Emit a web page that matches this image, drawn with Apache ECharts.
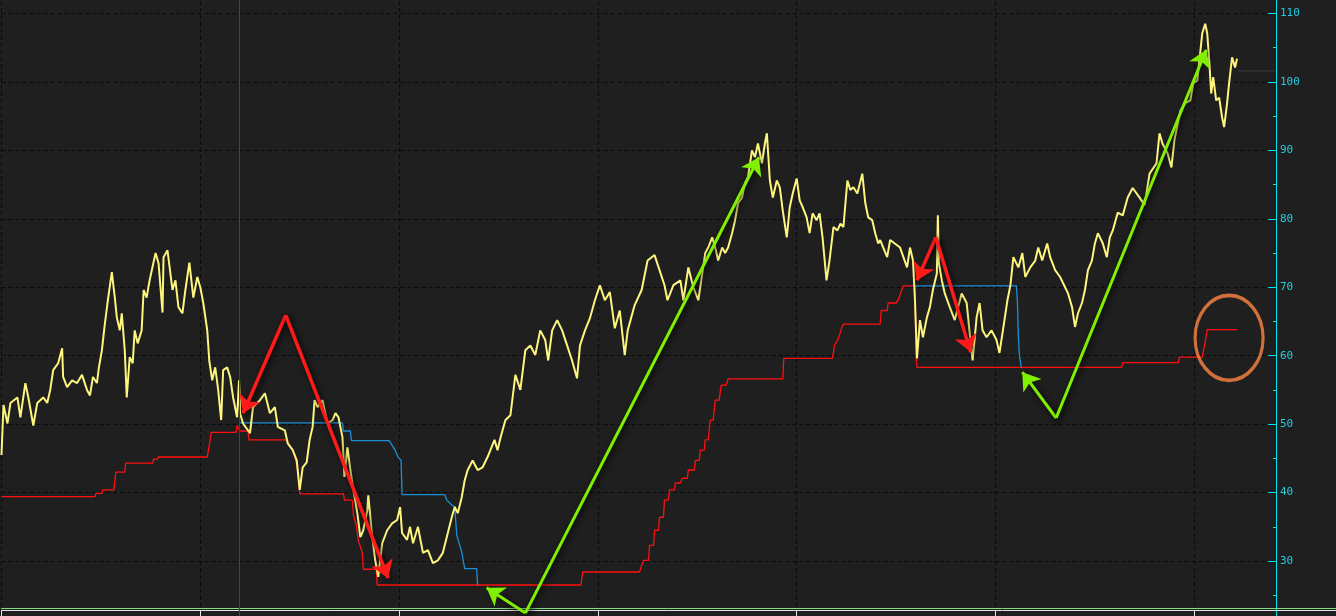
<!DOCTYPE html>
<html>
<head>
<meta charset="utf-8">
<script src="https://cdn.jsdelivr.net/npm/echarts@6/dist/echarts.min.js"></script>
<style>
html,body{margin:0;padding:0;background:#1f1f1f;width:1336px;height:616px;overflow:hidden;position:relative;}
#chart{position:absolute;left:0;top:-55px;width:1336px;height:685px;}
</style>
</head>
<body>
<div id="chart"></div>
<script>
// ---- data (x = session index, y = price) ----
const yTicks = [30, 40, 50, 60, 70, 80, 90, 100, 110];

const price = [
[0,45.5],[2,52.8],[6,50.1],[9,53.1],[16,53.9],[19,51.0],[24,56.0],[27,53.9],[32,49.8],[36,53.1],[42,53.9],[46,53.1],
[49,55.0],[52,57.9],[57,58.9],[61,61.1],[62,56.9],[66,55.4],[71,56.4],[76,56.0],[81,57.2],[86,55.0],[89,54.2],[92,56.9],
[96,56.0],[98,58.3],[101,60.8],[104,64.7],[107,68.1],[111,72.2],[114,68.5],[116,65.6],[119,63.7],[121,66.2],[124,60.8],
[126,53.9],[129,59.8],[132,58.9],[134,63.7],[137,61.8],[141,63.7],[143,69.6],[146,68.5],[149,71.0],[155,75.0],[158,73.5],
[162,66.3],[163,74.4],[167,75.4],[172,69.6],[175,71.0],[178,67.1],[182,66.2],[185,69.6],[189,73.6],[193,68.5],[197,71.5],
[200,70.0],[203,67.7],[207,63.7],[209,59.3],[212,56.4],[215,58.3],[218,55.0],[221,50.6],[223,57.9],[227,58.3],[230,56.9],
[233,53.9],[237,51.0],[239,56.4],[240,51.6],[243,50.1],[250,48.7],[253,52.5],[260,53.5],[265,54.5],[270,51.6],[275,52.5],
[278,49.6],[285,49.1],[288,47.2],[293,46.2],[297,44.7],[300,40.4],[303,43.7],[307,44.4],[310,47.7],[313,49.6],[315,53.5],
[318,52.5],[323,53.5],[328,50.1],[333,50.6],[336,51.6],[339,51.0],[343,48.1],[345,42.3],[348,46.6],[351,43.3],[354,40.4],
[358,37.0],[361,33.5],[364,34.5],[368,37.4],[369,39.6],[373,33.5],[376,30.1],[379,27.7],[383,32.6],[388,34.5],[393,35.5],
[398,36.0],[401,37.9],[403,34.1],[408,33.1],[411,35.0],[414,32.6],[419,35.0],[424,31.2],[429,31.6],[434,29.7],[439,30.1],
[444,31.2],[449,34.1],[453,36.4],[456,37.9],[459,37.0],[463,39.3],[466,41.8],[469,43.3],[474,44.7],[479,43.3],[484,43.7],
[489,45.2],[496,47.7],[499,46.2],[502,48.0],[507,50.6],[512,51.3],[517,57.2],[522,55.0],[527,60.8],[532,61.5],[537,60.1],
[542,63.7],[547,62.3],[550,59.3],[554,63.7],[559,65.2],[564,63.7],[569,61.5],[574,59.3],[579,56.7],[582,61.5],[587,63.7],
[592,65.5],[597,68.1],[602,70.3],[607,68.1],[612,69.3],[617,64.0],[622,66.6],[627,60.1],[630,63.7],[637,67.4],[644,69.6],
[650,73.9],[657,74.7],[662,72.5],[667,70.3],[670,68.1],[676,70.3],[683,71.0],[686,68.1],[691,72.9],[696,70.0],[701,68.1],
[705,72.0],[708,75.0],[711,75.8],[715,77.3],[718,75.8],[721,73.9],[725,75.8],[728,75.0],[731,75.8],[735,77.9],[738,79.8],
[741,82.3],[745,83.1],[748,85.2],[751,86.1],[755,90.0],[758,89.0],[761,91.0],[765,88.1],[768,91.0],[770,92.5],[773,85.6],
[776,83.1],[780,85.6],[783,84.6],[786,81.2],[790,77.3],[793,81.7],[796,83.7],[800,85.9],[803,82.7],[806,81.7],[810,80.2],
[813,77.9],[816,80.8],[820,79.8],[823,80.8],[826,77.3],[830,71.0],[833,73.9],[837,78.8],[841,78.3],[844,79.3],[847,78.8],
[851,85.6],[854,84.2],[857,84.6],[861,83.7],[866,86.6],[869,82.3],[872,80.2],[876,79.8],[879,77.9],[882,76.4],[884,76.9],
[891,74.4],[894,76.9],[904,75.8],[911,72.9],[914,75.8],[917,73.9],[919,68.1],[921,59.6],[924,65.2],[927,62.7],[931,65.6],
[934,67.1],[937,69.6],[941,72.0],[942,80.5],[943,73.6],[946,71.0],[949,69.1],[954,67.1],[959,65.2],[966,69.1],[971,67.7],
[974,63.3],[977,59.3],[981,65.6],[984,67.7],[987,63.7],[991,62.7],[996,63.7],[1001,62.3],[1004,60.4],[1008,64.2],[1012,68.1],
[1015,70.3],[1018,74.4],[1023,72.9],[1027,75.0],[1030,71.5],[1035,72.9],[1040,73.9],[1043,75.8],[1047,73.9],[1052,76.4],
[1055,74.4],[1060,72.5],[1065,71.5],[1070,70.0],[1073,69.1],[1077,67.1],[1080,64.2],[1083,66.2],[1087,67.7],[1090,69.6],
[1093,72.5],[1097,73.9],[1100,76.4],[1103,77.9],[1108,76.4],[1112,74.4],[1115,77.3],[1118,78.3],[1123,80.9],[1128,80.5],
[1133,83.1],[1138,84.5],[1145,83.1],[1150,82.0],[1155,86.6],[1162,88.1],[1165,92.5],[1168,91.0],[1173,89.6],[1177,87.5],
[1180,91.5],[1186,95.8],[1191,96.9],[1196,97.3],[1199,99.8],[1203,100.2],[1208,107.1],[1211,108.5],[1213,107.1],[1215,103.1],
[1217,98.3],[1219,100.7],[1222,97.3],[1225,97.7],[1228,94.8],[1230,93.4],[1233,96.9],[1235,99.8],[1238,103.6],[1239,103.1],
[1241,102.1],[1243,103.4]
];

const redStop = [
[0,39.4],[94,39.4],[95,39.9],[101,39.9],[102,40.4],[113,40.4],[115,43.0],[124,43.0],[125,44.3],[152,44.3],[153,44.9],
[157,44.9],[158,45.2],[207,45.2],[209,46.9],[211,48.8],[236,48.8],[237,49.8],[239,50.0],[240,49.0],[248,49.0],[249,47.7],
[286,47.7],[290,46.9],[293,46.2],[296,44.7],[298,43.3],[300,39.8],[344,39.8],[345,38.9],[353,38.9],[354,36.7],[357,35.2],
[359,33.0],[363,31.2],[364,28.8],[377,28.8],[378,26.5],[583,26.5],[584,27.7],[585,28.4],[642,28.4],[644,29.4],[646,30.1],
[651,30.1],[652,32.3],[656,32.3],[657,34.5],[661,34.5],[662,36.4],[666,36.4],[667,38.9],[671,38.9],[672,40.4],[677,40.4],
[678,41.4],[683,41.4],[685,42.1],[690,42.1],[691,43.3],[697,43.3],[698,44.7],[702,44.7],[703,46.2],[707,46.2],[708,47.7],
[711,47.7],[713,50.6],[716,50.6],[718,53.5],[722,53.5],[724,55.7],[729,55.7],[731,56.6],[786,56.6],[787,59.6],[836,59.6],
[838,61.5],[842,62.5],[845,64.0],[847,64.6],[884,64.6],[885,66.6],[891,66.6],[892,67.7],[900,67.7],[902,68.1],[905,69.3],
[907,70.2],[919,70.2],[920,60.0],[921,58.3],[1127,58.3],[1128,59.0],[1184,59.0],[1185,59.8],[1208,59.8],[1211,62.0],
[1213,63.8],[1243,63.8]
];

const blueStop1 = [
[240,50.2],[343,50.2],[344,49.0],[351,49.0],[352,47.6],[390,47.6],[393,46.9],[396,46.2],[399,45.2],[402,44.7],[403,39.7],
[446,39.7],[448,38.9],[453,38.2],[456,37.9],[458,33.8],[461,32.3],[463,31.3],[466,28.9],[478,28.9],[479,26.5]
];
const blueStop2 = [[919,70.2],[1021,70.2],[1022,68.1],[1023,63.0],[1024,60.1],[1026,58.3]];

const lastPrice = [[1244,101.6],[1282,101.6]];
const cursorX = 239.4;

const redArrows = [
  [[286,65.9],[243,51.6]], [[286,65.9],[389,27.5]],
  [[940,77.3],[921,71.0]], [[940,77.3],[975,60.5]]
];
const greenArrows = [
  [[527,22.4],[488,26.1]], [[527,22.4],[762,89.0]],
  [[1061,50.9],[1027,57.6]], [[1061,50.9],[1212,104.7]]
];
const highlight = [[1235,62.6]];

// ---- chart ----
const chart = echarts.init(document.getElementById('chart'), null, {renderer:'canvas'});
const arrowSeries = (arr, color, width) => ({
  type:'lines', coordinateSystem:'cartesian2d', xAxisIndex:0, yAxisIndex:0,
  symbol:['none','arrow'], symbolSize:17, z:10, silent:true,
  lineStyle:{color:color, width:width, opacity:1, curveness:0,
    shadowBlur:6, shadowColor:'rgba(0,0,0,0.9)', shadowOffsetX:2, shadowOffsetY:2},
  data: arr.map(c => ({coords:c}))
});

chart.setOption({
  animation:false,
  backgroundColor:'#1f1f1f',
  grid:[
    {left:1.5, right:60, top:0, bottom:0.5},
    {left:1.5, right:0, top:663.5, height:2}
  ],
  xAxis:[
    {type:'value', gridIndex:0, min:0, max:1282.2, interval:200,
     axisLine:{show:false}, axisTick:{show:false}, axisLabel:{show:false},
     splitLine:{show:true, lineStyle:{color:'#0a0a0a', type:[4,3], width:1}}},
    {type:'value', gridIndex:1, position:'top', min:0, max:1342.6, interval:200,
     axisLine:{show:true, onZero:false, lineStyle:{color:'#7ee07e', width:1}},
     axisTick:{show:false}, axisLabel:{show:false}, splitLine:{show:false}},
    {type:'value', gridIndex:1, position:'bottom', min:0, max:1342.6, interval:200,
     axisLine:{show:true, onZero:false, lineStyle:{color:'#e6e6e6', width:1}},
     axisTick:{show:true, length:6, lineStyle:{color:'#e6e6e6'}},
     axisLabel:{show:false}, splitLine:{show:false}}
  ],
  yAxis:[
    {type:'value', gridIndex:0, position:'right', min:20, max:120, interval:10,
     axisLine:{show:true, onZero:false, lineStyle:{color:'#00e6ee', width:1}},
     axisTick:{show:true, inside:true, length:8, lineStyle:{color:'#00e6ee'}},
     minorTick:{show:true, splitNumber:2, length:3, lineStyle:{color:'#00e6ee'}},
     axisLabel:{show:true, margin:4, color:'#22cde0', fontFamily:'DejaVu Sans Mono', fontSize:11,
       formatter: v => yTicks.includes(v) ? String(v) : ''},
     splitLine:{show:true, lineStyle:{color:'#0a0a0a', type:[4,3], width:1}}},
    {type:'value', gridIndex:1, min:0, max:1, show:false}
  ],
  series:[
    {type:'line', name:'cursor', xAxisIndex:0, yAxisIndex:0, data:[], silent:true,
     markLine:{silent:true, symbol:['none','none'], label:{show:false},
       lineStyle:{color:'#6e2470', width:1, type:'solid'}, data:[{xAxis:cursorX}]}},
    {type:'line', name:'stop red', data:redStop, showSymbol:false, symbol:'none',
     lineStyle:{color:'#ff1010', width:1.3}, z:3},
    {type:'line', name:'stop blue 1', data:blueStop1, showSymbol:false, symbol:'none',
     lineStyle:{color:'#1b8ed6', width:1.3}, z:3},
    {type:'line', name:'stop blue 2', data:blueStop2, showSymbol:false, symbol:'none',
     lineStyle:{color:'#1b8ed6', width:1.3}, z:3},
    {type:'line', name:'last', data:lastPrice, showSymbol:false, symbol:'none',
     lineStyle:{color:'#3c3c3c', width:1}, z:2},
    {type:'line', name:'price', data:price, showSymbol:false, symbol:'none',
     lineStyle:{color:'#fdf57d', width:2}, z:4},
    arrowSeries(redArrows, '#ff1a1a', 3.5),
    arrowSeries(greenArrows, '#80f000', 3),
    {type:'scatter', name:'highlight', data:highlight, symbol:'circle', symbolSize:[68,85], z:11, silent:true,
     itemStyle:{color:'rgba(0,0,0,0)', borderColor:'#ff8444', borderWidth:3.5}},
    {type:'line', xAxisIndex:2, yAxisIndex:1, data:[], silent:true}
  ]
});
</script>
</body>
</html>
